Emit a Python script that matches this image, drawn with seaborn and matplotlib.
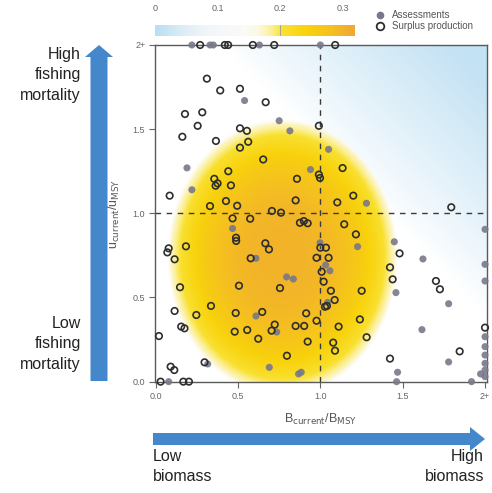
import numpy as np
import pandas as pd
import matplotlib
matplotlib.use("Agg")
import matplotlib.pyplot as plt
import seaborn as sns
from matplotlib.colors import LinearSegmentedColormap, Normalize
from matplotlib.cm import ScalarMappable
from matplotlib.lines import Line2D
from matplotlib.patches import FancyArrow

# ---------------- data ----------------
assess_x = [0.22, 0.33, 0.35, 0.63, 1.00,
            0.54, 0.75, 0.815, 1.05, 0.19, 0.94, 0.22, 1.28, 0.467, 0.998, 0.609,
            0.795, 0.836, 1.032, 1.058, 1.044, 0.609, 0.735, 0.316, 0.69, 0.868,
            0.884, 1.226, 1.449, 1.623, 1.459, 1.779, 1.617, 1.779, 1.469, 1.463,
            1.918, 1.973, 0.079,
            2.0, 2.0, 2.0, 2.0, 2.0, 2.0, 2.0, 2.0, 2.0]
assess_y = [2.0, 2.0, 2.0, 2.0, 2.0,
            1.67, 1.55, 1.49, 1.38, 1.27, 1.26, 1.14, 1.06, 0.91, 0.825, 0.733,
            0.622, 0.61, 0.693, 0.659, 0.471, 0.39, 0.295, 0.105, 0.085, 0.046,
            0.056, 0.802, 0.831, 0.729, 0.529, 0.463, 0.309, 0.117, 0.056, 0.0,
            0.0, 0.046, 0.0,
            0.905, 0.697, 0.598, 0.267, 0.208, 0.158, 0.109, 0.069, 0.03]

surplus_x = [0.27, 0.42, 0.44, 0.59, 0.72, 1.09,
             0.311, 0.392, 0.512, 0.668, 0.178, 0.283, 0.255, 0.512, 0.554, 0.991,
             0.162, 0.366, 0.562, 0.512, 0.653, 0.441, 0.991, 0.998, 0.356, 0.858,
             0.376, 0.364, 0.457, 0.085, 0.427, 0.85, 1.103, 0.33, 0.495, 1.135,
             1.20, 1.795,
             0.467, 0.488, 0.489, 0.574, 0.706, 0.761, 0.876, 0.90, 0.923, 0.079,
             0.071, 0.184, 0.115, 0.666, 0.688, 0.577, 1.0, 1.034, 0.977, 1.05,
             0.755, 0.506, 0.148, 1.008, 1.02, 1.064, 0.336, 0.115, 0.247, 0.486,
             0.647, 0.914, 0.977, 1.04, 1.028, 0.155, 0.175, 0.723, 0.704, 0.85,
             0.902, 1.111, 0.48, 0.556, 0.623, 0.02, 0.923, 1.078, 1.089, 0.797,
             0.297, 0.091, 0.113, 0.03, 0.168, 0.202, 1.145, 1.216, 1.481, 1.423,
             1.439, 1.702, 1.726, 1.251, 1.087, 1.24, 1.281, 1.846, 1.423, 2.0]
surplus_y = [2.0, 2.0, 2.0, 2.0, 2.0, 2.0,
             1.80, 1.73, 1.74, 1.66, 1.59, 1.60, 1.52, 1.505, 1.49, 1.52,
             1.455, 1.43, 1.425, 1.39, 1.32, 1.25, 1.23, 1.21, 1.205, 1.205,
             1.178, 1.164, 1.166, 1.105, 1.073, 1.077, 1.065, 1.043, 1.045, 1.269,
             1.105, 1.036,
             0.97, 0.855, 0.836, 0.968, 1.014, 1.004, 0.944, 0.954, 0.941, 0.792,
             0.768, 0.804, 0.727, 0.822, 0.786, 0.733, 0.796, 0.796, 0.736, 0.736,
             0.556, 0.57, 0.561, 0.653, 0.594, 0.54, 0.45, 0.42, 0.396, 0.408,
             0.414, 0.406, 0.362, 0.45, 0.445, 0.327, 0.317, 0.339, 0.303, 0.331,
             0.331, 0.327, 0.297, 0.307, 0.255, 0.271, 0.238, 0.232, 0.184, 0.154,
             0.115, 0.089, 0.069, 0.0, 0.0, 0.0, 0.935, 0.875, 0.762, 0.679,
             0.608, 0.598, 0.549, 0.54, 0.485, 0.37, 0.264, 0.18, 0.137, 0.321]

tick_values = [0.0, 0.5, 1.0, 1.5, 2.0]
tick_labels = ["0.0", "0.5", "1.0", "1.5", "2+"]
cbar_ticks = [0.0, 0.1, 0.2, 0.3]
cbar_labels = ["0", "0.1", "0.2", "0.3"]

# density surface parameters (model of the shaded kernel density)
dens_center = (0.77, 0.74)
dens_halfwidth = (0.70, 0.82)
dens_low = 0.16
dens_peak = 0.30

# ---------------- style ----------------
sns.set_style("white")
plt.rcParams["font.family"] = ["Liberation Sans", "DejaVu Sans"]

cmap = LinearSegmentedColormap.from_list(
    "status",
    [(0.0, "#b9ddf2"), (0.12, "#d8ebf6"), (0.25, "#f1f5f8"), (0.45, "#fafaf7"),
     (0.52, "#fcf8e0"), (0.58, "#fcf09a"), (0.64, "#f9e030"), (0.76, "#f8d20c"),
     (0.88, "#f5c020"), (1.0, "#f0a634")])
cmax = 0.32
norm = Normalize(0, cmax)

fig = plt.figure(figsize=(4.92, 4.93), dpi=100)
W, H = 492, 493
ax = fig.add_axes([155 / W, 1 - 382 / H, (487 - 155) / W, (382 - 45) / H])
xlim = (-0.004, 2.012)
ylim = (-0.002, 2.0)

# background field
gx = np.linspace(xlim[0], xlim[1], 500)
gy = np.linspace(ylim[0], ylim[1], 500)
X, Y = np.meshgrid(gx, gy)
blue_amt = np.clip((X + Y - 2.4) / 1.4, 0, 1) ** 0.9 * 0.85
blue_rgb = np.array(cmap(norm(0.0))[:3])
white = np.ones(3)
bg = white[None, None, :] * (1 - blue_amt[..., None]) + blue_rgb[None, None, :] * blue_amt[..., None]

R = np.sqrt(((X - dens_center[0]) / dens_halfwidth[0]) ** 2 + ((Y - dens_center[1]) / dens_halfwidth[1]) ** 2)
f = np.clip(1 - R ** 3, 0, 1) ** 0.6
val = dens_low + (dens_peak - dens_low) * f ** 1.6
dcol = cmap(norm(val))[..., :3]
alpha = np.clip(f / 0.25, 0, 1)[..., None]
img = bg * (1 - alpha) + dcol * alpha
ax.imshow(img, extent=(xlim[0], xlim[1], ylim[0], ylim[1]), origin="lower",
          aspect="auto", interpolation="bilinear", zorder=0)

ax.axvline(1.0, color="#3a3a3a", lw=1.0, ls=(0, (4, 4)), zorder=1)
ax.axhline(1.0, color="#3a3a3a", lw=1.0, ls=(0, (4, 4)), zorder=1)

df_a = pd.DataFrame({"B": assess_x, "U": assess_y})
df_s = pd.DataFrame({"B": surplus_x, "U": surplus_y})
sns.scatterplot(data=df_a, x="B", y="U", ax=ax, s=26, color="#78788a",
                edgecolor="none", linewidth=0, alpha=0.9, zorder=3, clip_on=False)
sns.scatterplot(data=df_s, x="B", y="U", ax=ax, s=22, facecolors="none",
                edgecolor="#2e2e2e", linewidth=1.2, zorder=4, clip_on=False)

ax.set_xlim(*xlim)
ax.set_ylim(*ylim)
ax.set_xticks(tick_values)
ax.set_xticklabels(tick_labels)
ax.set_yticks(tick_values)
ax.set_yticklabels(tick_labels)
ax.tick_params(axis="both", length=4, width=0.8, color="#666666",
               labelsize=6.5, labelcolor="#666666", pad=3, direction="out",
               bottom=True, left=True)
for sp in ax.spines.values():
    sp.set_color("#5a5a5a")
    sp.set_linewidth(1.0)
ax.set_xlabel(r"B$_{\mathrm{current}}$/B$_{\mathrm{MSY}}$", fontsize=9,
              color="#555555", labelpad=8)
ax.set_ylabel(r"u$_{\mathrm{current}}$/u$_{\mathrm{MSY}}$", fontsize=9,
              color="#555555", labelpad=8)

# colorbar
cax = fig.add_axes([155 / W, 1 - 36 / H, 200 / W, 11 / H])
cb = fig.colorbar(ScalarMappable(norm=norm, cmap=cmap), cax=cax, orientation="horizontal")
cb.outline.set_visible(False)
cax.xaxis.set_ticks_position("top")
cax.xaxis.set_label_position("top")
cb.set_ticks(cbar_ticks)
cb.set_ticklabels(cbar_labels)
cax.tick_params(length=0, labelsize=6.5, labelcolor="#666666", pad=9)
cax.axvline(0.2, color="#999999", lw=0.6)

# legend
handles = [Line2D([], [], marker="o", ls="none", color="#78788a", markersize=5.5,
                  markeredgewidth=0),
           Line2D([], [], marker="o", ls="none", markerfacecolor="none",
                  markeredgecolor="#2e2e2e", markeredgewidth=1.3, markersize=5.5)]
fig.legend(handles, ["Assessments", "Surplus production"], loc="upper left",
           bbox_to_anchor=(375 / W, 1 - 10 / H), frameon=False, fontsize=7,
           labelcolor="#555555", handlelength=1.0, handletextpad=0.7,
           labelspacing=0.15, borderpad=0, borderaxespad=0)

# annotation overlay
ov = fig.add_axes([0, 0, 1, 1], zorder=-1)
ov.set_xlim(0, W)
ov.set_ylim(H, 0)
ov.axis("off")
arrow_blue = "#4587cb"
ov.add_patch(FancyArrow(99, 381, 0, -336, width=17, head_width=28, head_length=12,
                        length_includes_head=True, color=arrow_blue, lw=0))
ov.add_patch(FancyArrow(153, 439, 332, 0, width=12, head_width=24, head_length=15,
                        length_includes_head=True, color=arrow_blue, lw=0))
txt_kw = dict(fontsize=11.5, color="#222222", linespacing=1.45)
ov.text(81, 47, "High\nfishing\nmortality", ha="right", va="top", **txt_kw)
ov.text(81, 316, "Low\nfishing\nmortality", ha="right", va="top", **txt_kw)
ov.text(153, 449, "Low\nbiomass", ha="left", va="top", **txt_kw)
ov.text(484, 449, "High\nbiomass", ha="right", va="top", **txt_kw)

fig.savefig("out.png", dpi=100)
